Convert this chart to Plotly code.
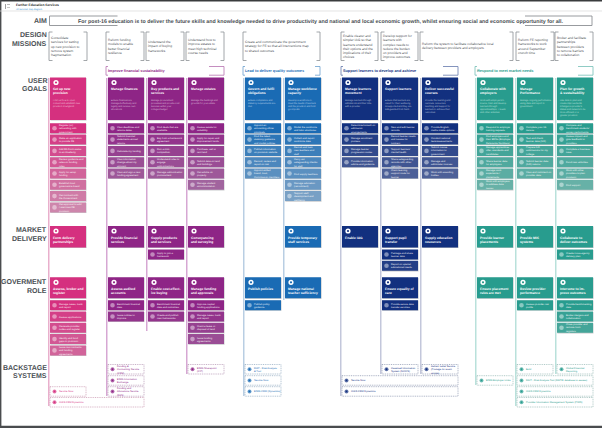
import textwrap
import plotly.graph_objects as go

# ---------- content ("|" marks the line breaks seen in the reference) ----------
AIM_LABEL = "AIM"
AIM_TEXT = ("For post-16 education is to deliver the future skills and knowledge needed to drive productivity "
            "and national and local economic growth, whilst ensuring social and economic opportunity for all.")
HEADER_TITLE = "Further Education Services"
HEADER_SUB = "All Services map diagram"
ROW_LABELS = [["DESIGN", "MISSIONS"], ["USER", "GOALS"], ["MARKET", "DELIVERY"], ["GOVERMENT", "ROLE"], ["BACKSTAGE", "SYSTEMS"]]

MISSIONS = [
    "Consolidate|services for setting|up new provision to|remove system|fragmentation",
    "Reform funding|models to enable|better financial|resilience",
    "Understand the|impact of buying|frameworks.",
    "Understand how to|improve estates to|meet high technical|course needs",
    "Create and communicate the government|strategy for FE so that all interventions map|to shared outcomes.",
    "Enable clearer and|simpler IAG so that|learners understand|their options and the|implications of their|choices",
    "Develop support for|learners with|complex needs to|reduce the burden|on providers and|improve outcomes.",
    "Reform the system to facilitate collaborative local|delivery between providers and employers.",
    "Reform FE reporting|frameworks to work|around September|crunch time",
    "Broker and facilitate|partnerships|between providers|to remove barriers|to collaboration",
]
SECTIONS = ["Improve financial sustainability", "Lead to deliver quality outcomes",
            "Support learners to develop and achieve", "Respond to meet market needs"]

GOAL_TITLES = ["Set up new|provision", "Manage finances", "Buy products and|services", "Manage estates",
               "Govern and fulfil|obligations", "Manage workforce|capacity", "Manage learners|movement",
               "Support learners", "Deliver successful|courses", "Collaborate with|employers",
               "Manage|Performance", "Plan for growth|& sustainability"]
GOAL_TEXTS = [
    "Find out how to open, convert and establish new provision in England",
    "Ensure finances are managed effectively and legally and receive own allocations",
    "Manage procurement processes and provide cost services within your colleges budget",
    "Manage the buildings and grounds for your estate",
    "Ensure compliance and statutory requirements are met",
    "Develop a workforce to meet the needs of learners and the provision and hold good posts",
    "Manage learners through admissions and their time with a provider",
    "Ensure that learners are cared for, their wellbeing is supported and they are safeguarded from harm",
    "Provide the learning and curricula, resources, teaching and support for learners to achieve their outcomes",
    "Work with employers to source, train and develop learners through apprenticeships, T levels and other activities",
    "Manage ongoing performance using data and report to government",
    "Use data to plan and create improvements. Changes a provider's status and network to be more efficient or a greater provision",
]
GOAL_ITEMS = [
    ["Register (or) rebranding with government", "Make an application to provide FE", "Add 8A Form status to an Academy",
     "Review guidance and rates on funding rules", "Apply for setup funding", "Establish trust governance board",
     "Get contract with the Government", "Get approval to add / start new FE provision"],
    ["View deadlines and returns dates", "Submit financial statements annual returns", "Calculate my funding",
     "View information change about my account", "View and sign a new funding agreement"],
    ["Find deals that are available", "Buy from a framework agreement", "Run a mini-competition",
     "Understand rules to engage subcontractors", "Manage subcontractor procurement"],
    ["Assess estate for suitability", "Apply for repair and improvement funds", "Purchase, sell or rent land",
     "Submit data on land and buildings", "Get advice on property", "Manage student accommodation"],
    ["Appoint an accounting officer principals", "Find the latest statutory guidance and model policies",
     "Publish information on provision website", "Record, review and report on risk",
     "Appoint skilled board, trust, Commission members"],
    ["Model the workforce and tutor structures", "Collect and report workforce data", "Recruit and train new teachers and staff",
     "Carry out safeguarding checks for staff", "Find supply teachers", "Manage education (recruitment)",
     "Support staff development and wellbeing"],
    ["Determine/consult on admission arrangements", "Manage enrolment process", "Manage learner progression routes",
     "Provide information advice and guidance"],
    ["New and edit learner records", "Record learner needs and causes for concern", "Support learners' mental health",
     "Share safeguarding records with other agencies", "Claim learning support costs for learner"],
    ["Provide English, maths intake options", "Conduct national tests/assessments", "Submit course information to government",
     "Manage and administer courses", "Work with awarding bodies"],
    ["Respond to employer training requests", "Find employers and their ERNs (Employer Reference Numbers)",
     "Manage apprentices offer, standards and candidates", "Share learner data for employers",
     "Manage work experience / placements", "Work with employers to address data issues"],
    ["Complete your 16 census", "Test and check learner data (ILR)", "Prepare ILR submissions for my college",
     "Submit learner data (ILR) returns", "View and comment on provider data"],
    ["Compare and benchmark students' survey performance", "Assess impact and give feedback to providers",
     "Complete a business case", "Fund new activities", "Work with other providers to plan provision", "Find support"],
]
MARKET_TITLES = ["Form delivery|partnerships", "Provide financial|services", "Supply products|and services",
                 "Conveyancing|and surveying", None, "Provide temporary|staff services", "Enable IAG",
                 "Support pupil|transfer", "Supply education|resources", "Provide learner|placements",
                 "Provide MIS|systems", "Collaborate to|deliver outcomes"]
MARKET_ITEMS = [[], [], ["Apply to join a framework"], [], [], [], [],
                ["Package and share learner data", "Report on special educational needs"], [], [], [],
                ["Create cross-agency delivery plan"]]
GOV_TITLES = ["Assess, broker and|register", "Assess audited|accounts", "Enable cost-effect-|ive buying",
              "Manage funding|and approvals", "Publish policies", "Manage national|teacher sufficiency", None,
              "Ensure equality of|care", None, "Ensure placement|rules are met", "Review provider|performance",
              "Intervene to im-|prove outcomes"]
GOV_ITEMS = [
    ["Manage cases, track and report", "Assess applications", "Generate provider codes and register",
     "Identify and fund gaps in provision", "Issue new contracts and funding agreements"],
    ["Benchmark financial data", "Issue notices to improve"],
    ["Benchmark financial data and outcomes", "Create and publish new frameworks"],
    ["Approve capital funding applications", "Manage cases, track and report", "Grant a lease or disposal of land",
     "Issue funding agreements"],
    ["Publish policy guidance"], [], [], ["Provide secure data transfer services"], [], [],
    ["Assess provider risk profile"],
    ["Provide benchmarking data", "Broker mergers and collaboration", "Close provider and remove from registers"],
]
BACKSTAGE_NAMES = ["Service Now", "GIAS CRM Dynamics", "Funding & Contracting Service (CFM)", "ESFA Information Exchange",
                   "Funding and Allocations Service (FAS)", "ESFA Sharepoint (CIP)", "RIAT - Risk Analysis & Tool",
                   "Service Now", "ESFA CRM (Dynamics)", "Service Now", "GIAS CRM Dynamics",
                   "Caseload Information System (NCCIS)", "Hallam Label Service (Postage for exam scripts)",
                   "ESFA Employer Links", "Bold", "Global Financial Reporting",
                   "RAIT - Risk Analysis Tool (RAPID database to assess)", "GIAS CRM Dynamics",
                   "Provider Information Management System (PIMS)"]

# ---------- layout and style ----------
W, H = 602, 428
COL_L = [50, 108, 148, 188, 245, 285, 342, 382, 422, 477, 517, 557]
COL_W = 36
PALETTE = {"pink": "#D5307F", "purple": "#8E2586", "blue": "#1A6BB4", "navy": "#12307F", "teal": "#289C8E"}
FADE = {"pink": "#CE86AC", "purple": "#A87AA6", "blue": "#86A8C8", "navy": "#7480A8", "teal": "#7DB8B0"}
RAIL = {"pink": "#E49BC0", "purple": "#CC92C8", "blue": "#A8C2DC", "navy": "#B4BAD2", "teal": "#A8DAD2"}
COL_HUE = ["pink", "purple", "purple", "purple", "blue", "blue", "navy", "navy", "navy", "teal", "teal", "teal"]
RAIL_END = [406, 396, 331, 374, 396, 300, 396, 374, 374, 385, 406, 374]
MISSION_SPAN = [(49, 87), (106, 144), (146, 184), (186, 224), (243, 320), (341, 378), (381, 418), (420, 513), (516, 554), (555, 593)]
SECTION_SPAN = [(106, 224, "purple"), (243, 320, "blue"), (341, 458, "navy"), (475, 593, "teal")]
BACK_ROWS = [364.5, 375.7, 386.7, 397.5]
BACK_LAYOUT = [(0, 0, 2), (0, 1, 3), (1, 1, 0), (1, 1, 1), (1, 1, 2), (3, 3, 0), (4, 4, 0), (4, 4, 1), (4, 4, 2),
               (6, 8, 1), (6, 8, 2), (7, 7, 0), (8, 8, 0), (9, 9, 1), (10, 10, 0), (11, 11, 0), (10, 11, 1), (10, 11, 2), (10, 11, 3)]
FONT = "Liberation Sans"
GREY = "#8C9094"
INK = "#4A4F54"

shapes, notes = [], []


def mix(a, b, t):
    ca = [int(a[i:i + 2], 16) for i in (1, 3, 5)]
    cb = [int(b[i:i + 2], 16) for i in (1, 3, 5)]
    return "#%02X%02X%02X" % tuple(round(x + (y - x) * t) for x, y in zip(ca, cb))


def rect(x0, y0, x1, y1, fill, line=None, lw=0, dash=None):
    shapes.append(dict(type="rect", x0=x0, y0=y0, x1=x1, y1=y1, fillcolor=fill, layer="above",
                       line=dict(color=line or fill, width=lw, dash=dash or "solid")))


def seg(x0, y0, x1, y1, color, lw=1.0):
    shapes.append(dict(type="line", x0=x0, y0=y0, x1=x1, y1=y1, layer="above", line=dict(color=color, width=lw)))


def circle(cx, cy, r, fill):
    shapes.append(dict(type="circle", x0=cx - r, y0=cy - r, x1=cx + r, y1=cy + r, fillcolor=fill, layer="above", line=dict(width=0)))


def text(x, y, s, size, color, bold=False, anchor="left", va="top"):
    notes.append(dict(x=x, y=y, text=f"<b>{s}</b>" if bold else s, showarrow=False, xanchor=anchor, yanchor=va,
                      align=anchor, font=dict(family=FONT, size=size, color=color), borderpad=0, borderwidth=0))


def wrap(s, n):
    return "<br>".join(textwrap.wrap(s, n))


def breaks(s):
    return s.replace("|", "<br>")


def bracket(x0, x1, y0, y1, stub_l, stub_r, color, lw=0.8):
    for pts in ([(x0 + stub_l, y0), (x0, y0), (x0, y1), (x0 + stub_l, y1)],
                [(x1 - stub_r, y0), (x1, y0), (x1, y1), (x1 - stub_r, y1)]):
        for a, b in zip(pts, pts[1:]):
            seg(a[0], a[1], b[0], b[1], color, lw)


def card(col, y0, y1, title, body=None):
    hue = COL_HUE[col]
    x0, x1 = COL_L[col], COL_L[col] + COL_W
    rect(x0 + 0.5, y0 + 0.5, x1 + 0.6, y1 + 0.6, "#C4C6C8")
    rect(x0, y0, x1, y1, PALETTE[hue])
    circle(x0 + 6, y0 + 5, 2.6, "#FFFFFF")
    circle(x0 + 6, y0 + 5, 1.1, PALETTE[hue])
    text(x0 + 3, y0 + 9.6, breaks(title), 3.3, "#FFFFFF", bold=True)
    if body:
        text(x0 + 3, y0 + 21.8, wrap(body, 26), 2.35, mix(PALETTE[hue], "#FFFFFF", 0.7))


def items(col, y0, labels, pitch=11.3, h=10):
    hue = COL_HUE[col]
    x0, x1 = COL_L[col], COL_L[col] + COL_W
    for i, lab in enumerate(labels):
        fill = mix(PALETTE[hue], FADE[hue], min(i / 7, 1) ** 0.9)
        y = y0 + i * pitch
        rect(x0 + 0.4, y + 0.4, x1 + 0.5, y + h + 0.6, "#C8CACC")
        rect(x0, y, x1, y + h, fill)
        circle(x0 + 4.5, y + h / 2, 2.3, mix(fill, "#FFFFFF", 0.45))
        text(x0 + 9, y + h / 2, wrap(lab, 20), 2.55, mix(fill, "#FFFFFF", 0.9), va="middle")


# frame and header
rect(0, 0, W, 1.6, "#3A3C3E")
rect(0, 0, 1.4, H, "#4A4C4E")
rect(0, 425.8, W, H, "#4A4C4E")
seg(0, 11, W, 11, "#D8D8D8", 0.7)
rect(5, 4, 6, 9, "#A0A0A0")
rect(7, 4, 10, 5, "#B8B8B8")
rect(7, 7, 10, 8, "#C8C8C8")
text(16, 5.4, HEADER_TITLE, 3.3, "#222222", bold=True, va="middle")
text(16, 8.5, HEADER_SUB, 2.3, "#2E8BD0", va="middle")

# aim
text(47, 20, AIM_LABEL, 7, INK, bold=True, anchor="right", va="middle")
bracket(49.5, 592, 16, 25.5, 68, 67, GREY, 0.9)
text(321, 20.8, AIM_TEXT, 5.3, INK, bold=True, anchor="center", va="middle")

# row labels
LABEL_Y = [(34.5, 43), (80, 88.5), (229.5, 238.5), (281, 290), (367, 375.5)]
for lines, ys in zip(ROW_LABELS, LABEL_Y):
    for s, y in zip(lines, ys):
        text(47, y, s, 7, INK, bold=True, anchor="right", va="middle")

# missions
for s, (a, b) in zip(MISSIONS, MISSION_SPAN):
    bracket(a, b, 32, 60.5, 3.5, 3.5, GREY, 0.8)
    text(a + 2, 46, breaks(s), 3.3, "#55595D", va="middle")

# section titles
for s, (a, b, hue) in zip(SECTIONS, SECTION_SPAN):
    stub = {"purple": 15, "blue": 5, "navy": 15, "teal": 15}[hue]
    bracket(a, b, 66.5, 75.2, 2, stub, mix(PALETTE[hue], "#FFFFFF", 0.35), 0.8)
    text(a + 2, 71, s, 3.8, PALETTE[hue], bold=True, va="middle")

# rails
for col in range(12):
    x = COL_L[col] - 1.2
    seg(x, 78, x, RAIL_END[col], RAIL[COL_HUE[col]], 1.2)

# cards and items
for col in range(12):
    card(col, 77.5, 120, GOAL_TITLES[col], GOAL_TEXTS[col])
    items(col, 123.3, GOAL_ITEMS[col])
    if MARKET_TITLES[col]:
        card(col, 226, 247.5, MARKET_TITLES[col])
        items(col, 249.5, MARKET_ITEMS[col])
    if GOV_TITLES[col]:
        card(col, 277.3, 298.2, GOV_TITLES[col])
        items(col, 300.2, GOV_ITEMS[col])

# backstage systems
for name, (c0, c1, r) in zip(BACKSTAGE_NAMES, BACK_LAYOUT):
    hue = COL_HUE[c0]
    x0, x1 = COL_L[c0], COL_L[c1] + COL_W
    y0, y1 = BACK_ROWS[r], BACK_ROWS[r] + 9.5
    rect(x0, y0, x1, y1, "#FFFFFF", mix(mix(PALETTE[hue], "#808080", 0.5), "#FFFFFF", 0.25), 0.6, "1px,0.8px")
    circle(x0 + 4.5, (y0 + y1) / 2, 2.0, mix(PALETTE[hue], "#FFFFFF", 0.35))
    circle(x0 + 4.5, (y0 + y1) / 2, 0.9, PALETTE[hue])
    n = 20 if c0 == c1 else 70
    text(x0 + 8.5, (y0 + y1) / 2, wrap(name, n), 2.55, PALETTE[hue], va="middle")

fig = go.Figure()
fig.update_layout(
    width=W, height=H, margin=dict(l=0, r=0, t=0, b=0), paper_bgcolor="#FFFFFF", plot_bgcolor="#FFFFFF",
    xaxis=dict(range=[0, W], visible=False, fixedrange=True),
    yaxis=dict(range=[H, 0], visible=False, fixedrange=True),
    shapes=shapes, annotations=notes, showlegend=False,
)
fig.write_html("out.html", config={"displayModeBar": False},
               post_script=("document.body.style.margin='0';document.documentElement.style.overflow='hidden';"
                            "var s=document.createElement('style');s.textContent='text{text-rendering:geometricPrecision}';"
                            "document.head.appendChild(s);"))
